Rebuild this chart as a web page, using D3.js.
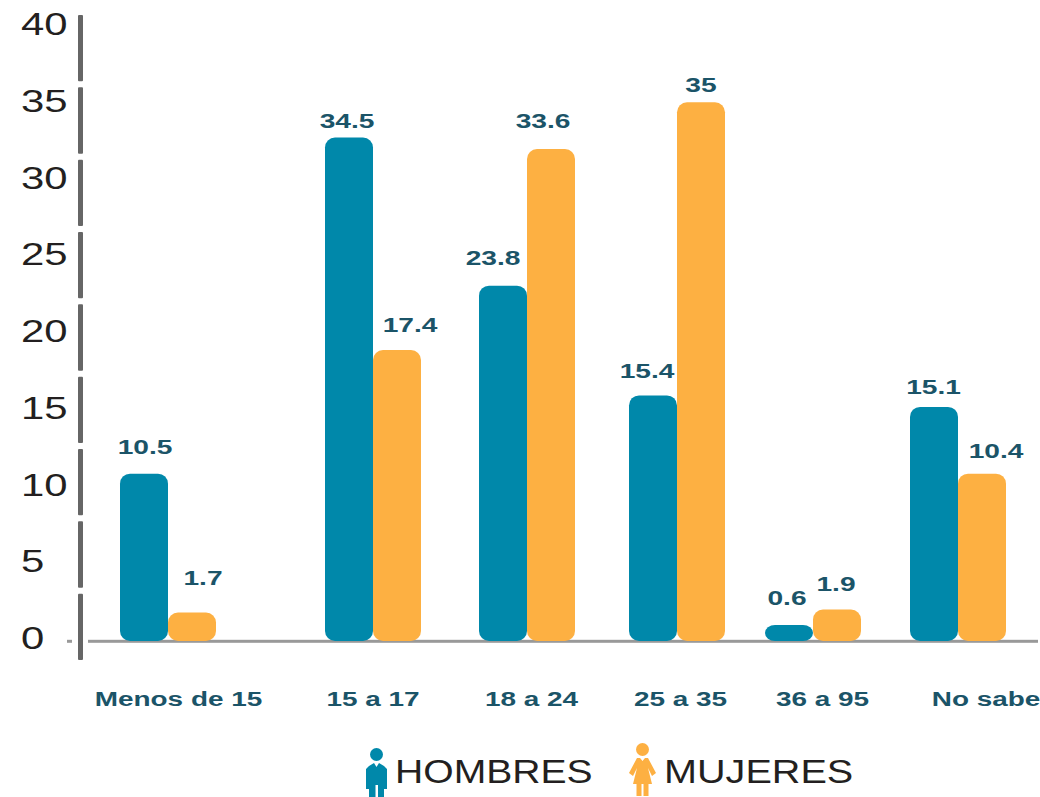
<!DOCTYPE html>
<html><head><meta charset="utf-8">
<script src="https://cdn.jsdelivr.net/npm/d3@7"></script>
<style>
html,body{margin:0;padding:0;background:#fff}
svg{display:block}
text{font-family:"Liberation Sans",Arial,sans-serif}
</style></head><body><svg id="c" width="1040" height="797"></svg>
<script>
const categories = ["Menos de 15","15 a 17","18 a 24","25 a 35","36 a 95","No sabe"];
const yTicks = [0,5,10,15,20,25,30,35,40];
// values printed on the chart
const hombresLabels = ["10.5","34.5","23.8","15.4","0.6","15.1"];
const mujeresLabels = ["1.7","17.4","33.6","35","1.9","10.4"];
// bar lengths as drawn, read against the axis (the printed figures do not line up with it)
const hombresBars = [10.9,32.8,23.15,16.0,1.05,15.25];
const mujeresBars = [1.85,18.95,32.05,35.1,2.05,10.9];
const legendNames = ["HOMBRES","MUJERES"];

const blue="#0088aa", orange="#fdb042", teal="#1b5468", ink="#231f20";
const svg=d3.select("#c");
const y=d3.scaleLinear().domain([0,40]).range([641,27]);
const groupX=d3.scaleOrdinal().domain(categories).range([168,373,527,677,813,958]);
const catX=d3.scaleOrdinal().domain(categories).range([178.5,373,531.5,680.5,822.5,986]);
const barW=48;

function stretched(g,x,yy,str,size,sx,weight,fill,anchor){
  return g.append("text").attr("transform",`translate(${x},${yy}) scale(${sx},1)`)
    .attr("text-anchor",anchor||"middle").attr("font-size",size)
    .attr("font-weight",weight).attr("fill",fill).text(str);
}

// axis: broken vertical rule
const seg=d3.scaleBand().domain(yTicks).range([15,660]).paddingInner(0.083);
svg.append("g").selectAll("rect").data(yTicks).join("rect")
  .attr("x",78).attr("width",5).attr("y",d=>seg(d)).attr("height",seg.bandwidth())
  .attr("rx",1).attr("fill","#666");
svg.append("rect").attr("x",88).attr("y",y(0)-1.2).attr("width",950).attr("height",3).attr("fill","#999");
svg.append("rect").attr("x",67).attr("y",y(0)-1.2).attr("width",5).attr("height",3).attr("fill","#999");

// tick labels
const tg=svg.append("g");
const tickY=d3.scaleLinear().domain([0,40]).range([649,35]);
yTicks.forEach(t=>{
  stretched(tg,21,tickY(t),String(t),31,1.35,"normal",ink,"start");
});

// bars
const barsG=svg.append("g");
function bars(vals,col,left){
  barsG.selectAll(null).data(categories).join("rect")
    .attr("x",d=>groupX(d)-(left?barW:0)).attr("width",barW)
    .attr("y",(d,i)=>y(vals[i])).attr("height",(d,i)=>y(0)-y(vals[i]))
    .attr("rx",10).attr("fill",col);
}
bars(hombresBars,blue,true);
bars(mujeresBars,orange,false);

// value labels: nudged individually as in the original
const hOff=[[-23,-20],[-26,-10],[-34,-21],[-30,-17],[-26,-20],[-24.5,-13]];
const mOff=[[35,-28],[37,-18],[16,-21],[24,-10],[23,-19],[38,-16]];
const lg=svg.append("g");
categories.forEach((c,i)=>{
  stretched(lg,groupX(c)+hOff[i][0],y(hombresBars[i])+hOff[i][1],hombresLabels[i],21,1.34,"bold",teal);
  stretched(lg,groupX(c)+mOff[i][0],y(mujeresBars[i])+mOff[i][1],mujeresLabels[i],21,1.34,"bold",teal);
  stretched(lg,catX(c),706,c,21,1.33,"bold",teal);
});

// legend
const leg=svg.append("g");
const man=leg.append("g").attr("transform","translate(366,748)").attr("fill",blue);
man.append("circle").attr("cx",10.5).attr("cy",6.5).attr("r",6.5);
man.append("path").attr("d",d3.line()([[3,18],[8,15],[10.5,19],[13,15],[18,18],[21,21],[21,41],[18,41],[18,49],[12,49],[12,37],[9.5,37],[9.5,49],[3,49],[3,41],[0,41],[0,21]])+"Z");
const wom=leg.append("g").attr("transform","translate(629,743)").attr("fill",orange);
wom.append("circle").attr("cx",13.5).attr("cy",6.5).attr("r",6.5);
wom.append("path").attr("d",d3.line()([[8,15],[11,15],[13.5,18],[16,15],[19,15],[27,30],[23,33],[19,25],[23,41],[19.5,41],[19.5,53],[14.5,53],[14.5,41],[12.5,41],[12.5,53],[7.5,53],[7.5,41],[4,41],[8,25],[4,33],[0,30]])+"Z");
stretched(leg,395,782.5,legendNames[0],34,1.15,"normal",ink,"start");
stretched(leg,664,782.5,legendNames[1],34,1.165,"normal",ink,"start");
</script></body></html>
